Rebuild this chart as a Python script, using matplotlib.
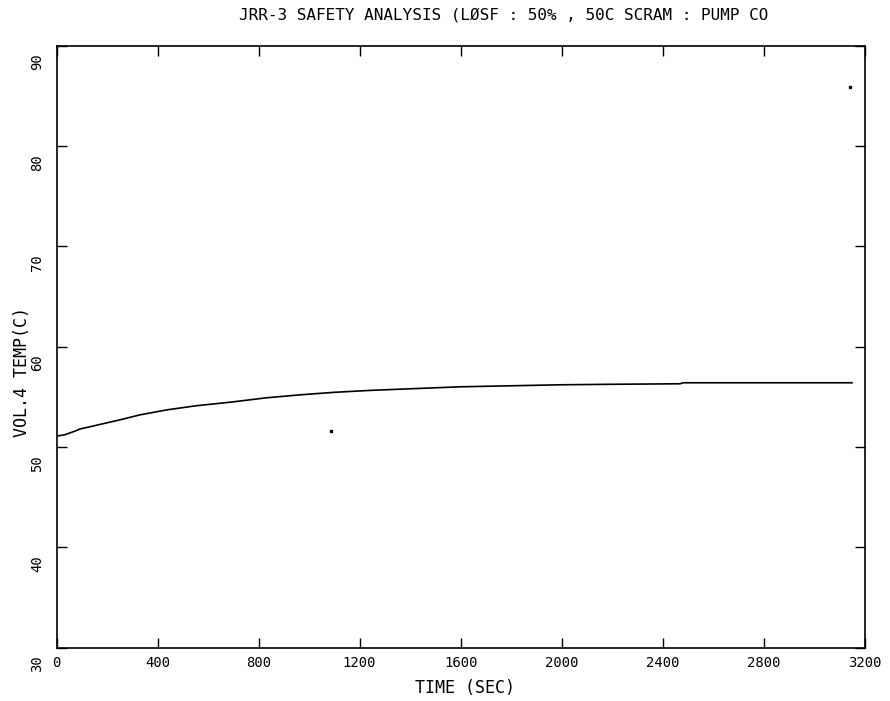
import matplotlib
matplotlib.use("Agg")
import matplotlib.pyplot as plt
import matplotlib.transforms as mtransforms

# vol.4 temperature vs time
time_s = [0, 30, 53, 75, 93, 130, 172, 250, 330, 437, 550, 700, 830, 965,
          1100, 1250, 1400, 1600, 1800, 2000, 2200, 2470, 2480, 2800, 3150]
temp_c = [51.1, 51.2, 51.4, 51.6, 51.8, 52.0, 52.25, 52.7, 53.2, 53.7, 54.1,
          54.5, 54.9, 55.2, 55.45, 55.65, 55.8, 56.0, 56.1, 56.2, 56.25,
          56.3, 56.4, 56.4, 56.4]

# stray plotter dots
dot_t = [1088, 3142]
dot_y = [51.6, 85.9]

xticks = [0, 400, 800, 1200, 1600, 2000, 2400, 2800, 3200]
yticks = [30, 40, 50, 60, 70, 80, 90]

fnt = "DejaVu Sans Mono"

fig = plt.figure(figsize=(8.9, 7.01), dpi=100)
ax = fig.add_axes([0.0635, 0.076, 0.908, 0.859])

ax.plot(time_s, temp_c, color="black", lw=1.2)
ax.plot(dot_t, dot_y, ls="none", marker="s", ms=1.5, color="black")

ax.set_xlim(0, 3200)
ax.set_ylim(30, 90)
ax.set_xticks(xticks)
ax.set_yticks(yticks)
ax.set_xticklabels([str(v) for v in xticks], fontfamily=fnt, fontsize=10)
ax.set_yticklabels([str(v) for v in yticks], fontfamily=fnt, fontsize=10,
                   rotation=90, va="top")
ax.tick_params(direction="in", length=7, width=1, top=True, right=True,
               color="black")
ax.tick_params(axis="x", pad=6)
ax.tick_params(axis="y", pad=9)

# y labels sit a bit below their ticks
off = mtransforms.ScaledTranslation(0, -8 / 100, fig.dpi_scale_trans)
for lab in ax.get_yticklabels():
    lab.set_transform(lab.get_transform() + off)

for s in ax.spines.values():
    s.set_linewidth(1.2)

fig.text(504 / 890, 1 - 15 / 701,
         "JRR-3 SAFETY ANALYSIS (LØSF : 50% , 50C SCRAM : PUMP CO",
         ha="center", va="center", fontfamily=fnt, fontsize=11.5)
fig.text(465 / 890, 1 - 688 / 701, "TIME (SEC)", ha="center", va="center",
         fontfamily=fnt, fontsize=12)
fig.text(22 / 890, 1 - 372 / 701, "VOL.4 TEMP(C)", ha="center", va="center",
         rotation=90, fontfamily=fnt, fontsize=12)

fig.savefig("out.png", dpi=100, facecolor="white")
